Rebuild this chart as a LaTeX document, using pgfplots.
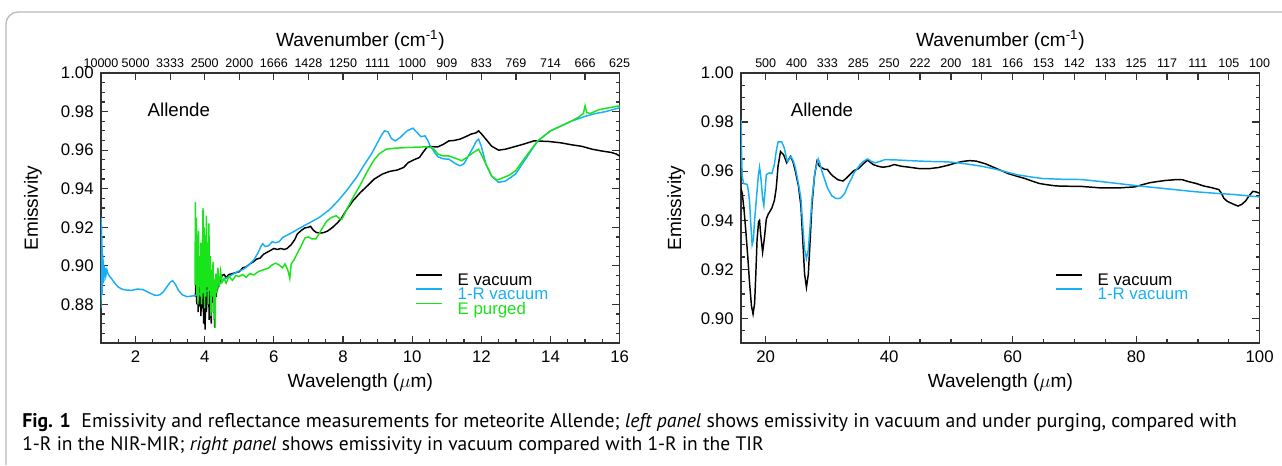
\documentclass[border=0pt]{standalone}
\usepackage{fontspec}
\setmainfont{Liberation Sans}
\newfontfamily\capfont{PT Sans}
\usepackage{graphicx}
\usepackage{pgfplots}
\pgfplotsset{compat=1.18}
\definecolor{cblue}{RGB}{25,175,245}
\definecolor{cgreen}{RGB}{25,228,25}
\definecolor{framec}{RGB}{50,50,50}

\pgfplotstableread{
x y
3.73 0.884
3.75 0.898
3.77 0.880
3.79 0.895
3.81 0.876
3.83 0.892
3.85 0.879
3.87 0.890
3.89 0.874
3.91 0.893
3.93 0.878
3.95 0.889
3.97 0.870
3.99 0.885
4.01 0.867
4.03 0.887
4.05 0.876
4.07 0.893
4.09 0.880
4.11 0.891
4.13 0.872
4.15 0.888
4.17 0.878
4.19 0.870
4.21 0.890
4.23 0.881
4.25 0.894
4.27 0.878
4.29 0.868
4.31 0.888
4.33 0.884
4.35 0.893
4.38 0.889
4.42 0.893
4.46 0.892
4.5 0.895
4.56 0.8955
4.62 0.894
4.7 0.8955
4.8 0.896
4.9 0.8965
5.0 0.897
5.1 0.899
5.2 0.8995
5.3 0.901
5.4 0.902
5.5 0.9035
5.6 0.904
5.7 0.906
5.8 0.907
5.9 0.908
6.0 0.909
6.1 0.9085
6.2 0.909
6.3 0.9085
6.38 0.909
6.5 0.911
6.6 0.9135
6.68 0.9166
6.8 0.9185
6.9 0.9197
7.0 0.920
7.06 0.9205
7.14 0.9185
7.22 0.9174
7.32 0.917
7.43 0.9172
7.55 0.918
7.7 0.920
7.85 0.9225
7.97 0.9252
8.1 0.929
8.29 0.9338
8.5 0.938
8.71 0.9416
8.9 0.945
9.14 0.9476
9.35 0.949
9.57 0.9497
9.75 0.951
9.89 0.9536
10.05 0.955
10.21 0.9562
10.32 0.959
10.42 0.9614
10.55 0.9618
10.74 0.9617
10.9 0.963
11.06 0.9648
11.2 0.965
11.38 0.9657
11.55 0.967
11.7 0.9683
11.85 0.969
11.92 0.970
12.0 0.9685
12.13 0.9657
12.3 0.962
12.5 0.960
12.7 0.9605
12.88 0.9614
13.2 0.963
13.52 0.9648
13.95 0.9645
14.3 0.9638
14.6 0.9628
14.9 0.962
15.2 0.9605
15.5 0.9595
15.76 0.9588
15.9 0.958
16.0 0.957
}\LEvac

\pgfplotstableread{
x y
1.0 0.878
1.005 0.925
1.01 0.884
1.015 0.921
1.02 0.888
1.025 0.915
1.03 0.885
1.035 0.910
1.04 0.889
1.05 0.906
1.06 0.891
1.07 0.903
1.08 0.892
1.09 0.900
1.10 0.894
1.12 0.899
1.14 0.895
1.17 0.898
1.2 0.896
1.25 0.8945
1.3 0.8935
1.4 0.891
1.5 0.889
1.6 0.888
1.7 0.8875
1.89 0.8873
2.05 0.888
2.21 0.8877
2.4 0.886
2.55 0.8848
2.64 0.8847
2.72 0.8852
2.8 0.8865
2.9 0.889
3.0 0.8915
3.07 0.8923
3.15 0.8905
3.25 0.887
3.35 0.885
3.49 0.884
3.6 0.8843
3.7 0.8845
3.85 0.8855
4.0 0.8865
4.13 0.8875
4.3 0.889
4.45 0.891
4.56 0.893
4.8 0.8955
5.0 0.8975
5.1 0.898
5.25 0.900
5.42 0.9031
5.55 0.907
5.62 0.910
5.68 0.9115
5.75 0.910
5.85 0.9105
5.95 0.9125
6.05 0.912
6.15 0.9125
6.26 0.9148
6.5 0.917
6.79 0.920
7.05 0.9225
7.32 0.9252
7.6 0.929
7.86 0.9338
8.1 0.939
8.39 0.9459
8.6 0.952
8.82 0.958
9.0 0.964
9.12 0.968
9.2 0.970
9.3 0.9695
9.4 0.966
9.51 0.9648
9.65 0.9665
9.85 0.970
10.02 0.9714
10.15 0.969
10.25 0.967
10.37 0.9674
10.45 0.965
10.53 0.962
10.64 0.959
10.74 0.9566
10.9 0.9555
11.06 0.9553
11.25 0.953
11.38 0.9519
11.5 0.953
11.6 0.9562
11.75 0.961
11.85 0.9645
11.92 0.9657
12.0 0.962
12.13 0.9528
12.3 0.9465
12.5 0.9433
12.7 0.944
12.99 0.9476
13.3 0.956
13.63 0.9648
14.0 0.970
14.3 0.9725
14.6 0.975
15.0 0.9775
15.3 0.979
15.6 0.980
16.0 0.982
}\LRvac

\pgfplotstableread{
x y
3.72 0.890
3.73 0.933
3.745 0.895
3.76 0.925
3.775 0.885
3.79 0.915
3.805 0.880
3.82 0.918
3.835 0.889
3.85 0.905
3.87 0.884
3.89 0.912
3.91 0.880
3.93 0.895
3.95 0.930
3.965 0.886
3.98 0.920
3.995 0.878
4.01 0.916
4.03 0.884
4.05 0.926
4.065 0.889
4.08 0.912
4.10 0.880
4.12 0.922
4.14 0.887
4.16 0.905
4.18 0.874
4.20 0.898
4.22 0.884
4.24 0.902
4.26 0.876
4.28 0.893
4.30 0.868
4.32 0.896
4.35 0.886
4.38 0.899
4.42 0.889
4.46 0.897
4.5 0.8915
4.56 0.8935
4.62 0.891
4.7 0.8945
4.8 0.8925
4.9 0.895
4.99 0.8945
5.1 0.8955
5.2 0.894
5.3 0.896
5.42 0.8953
5.55 0.897
5.7 0.898
5.84 0.8988
5.95 0.9005
6.05 0.9014
6.15 0.9005
6.25 0.899
6.32 0.901
6.4 0.898
6.46 0.8935
6.5 0.901
6.58 0.903
6.68 0.9066
6.78 0.910
6.9 0.9145
7.0 0.915
7.1 0.914
7.22 0.914
7.35 0.918
7.45 0.921
7.54 0.9234
7.65 0.925
7.8 0.926
7.9 0.9245
7.97 0.9243
8.1 0.929
8.29 0.9355
8.5 0.942
8.71 0.9493
8.9 0.955
9.04 0.958
9.25 0.9605
9.5 0.961
9.89 0.9614
10.2 0.9616
10.42 0.9617
10.55 0.9612
10.63 0.9605
10.74 0.958
10.9 0.957
11.06 0.957
11.25 0.9558
11.43 0.9545
11.6 0.9565
11.75 0.9585
11.92 0.9605
12.02 0.957
12.13 0.9528
12.3 0.9465
12.45 0.9445
12.6 0.9455
12.8 0.947
12.99 0.9493
13.3 0.957
13.63 0.9648
14.0 0.970
14.3 0.9725
14.6 0.975
14.8 0.977
14.95 0.979
15.0 0.983
15.05 0.9795
15.15 0.979
15.4 0.981
15.7 0.982
16.0 0.983
}\LEpur

\pgfplotstableread{
x y
16.0 0.953
16.2 0.951
16.5 0.944
16.8 0.935
17.1 0.925
17.4 0.914
17.7 0.905
17.95 0.9018
18.2 0.906
18.4 0.918
18.6 0.932
18.85 0.9395
19.0 0.940
19.2 0.934
19.5 0.927
19.8 0.933
20.1 0.9405
20.4 0.9424
21.0 0.945
21.4 0.948
21.7 0.953
22.0 0.962
22.4 0.968
22.9 0.9667
23.4 0.9634
24.0 0.966
24.4 0.964
24.8 0.960
25.3 0.954
25.7 0.946
26.0 0.932
26.3 0.918
26.6 0.9127
26.9 0.918
27.2 0.932
27.5 0.9465
27.9 0.958
28.3 0.964
28.7 0.962
29.1 0.9614
29.5 0.9608
30.0 0.9607
30.5 0.959
30.9 0.958
31.7 0.9565
32.5 0.956
33.0 0.957
33.4 0.958
34.3 0.9603
35.0 0.961
35.8 0.963
36.5 0.9645
37.0 0.9635
37.4 0.9627
38.2 0.962
39.0 0.9616
40.0 0.962
40.8 0.9627
42.0 0.962
43.3 0.9616
45.0 0.961
46.4 0.961
48.0 0.9615
49.5 0.9624
51.0 0.9635
52.0 0.964
53.0 0.9643
54.1 0.9641
55.6 0.963
56.8 0.9617
58.1 0.9603
59.3 0.959
60.6 0.958
62.0 0.957
63.1 0.956
64.3 0.955
65.5 0.9545
67.0 0.954
68.0 0.9539
71.1 0.9538
74.2 0.9532
77.3 0.9532
79.8 0.9536
81.0 0.9545
82.2 0.9553
83.5 0.9558
84.7 0.9562
86.6 0.9566
87.5 0.9565
88.4 0.9558
89.7 0.955
90.9 0.954
92.2 0.9533
93.4 0.9525
93.8 0.951
94.2 0.949
94.7 0.9478
95.2 0.9472
95.8 0.9465
96.5 0.9458
97.1 0.9465
97.7 0.9478
98.3 0.950
98.9 0.9518
99.5 0.9515
100.0 0.951
}\REvac

\pgfplotstableread{
x y
16.0 0.981
16.05 0.975
16.1 0.966
16.2 0.958
16.4 0.955
17.0 0.9546
17.2 0.952
17.4 0.947
17.6 0.938
17.8 0.930
18.0 0.932
18.2 0.940
18.5 0.949
18.8 0.958
19.0 0.9616
19.15 0.959
19.3 0.955
19.5 0.949
19.7 0.946
19.9 0.952
20.1 0.9586
20.6 0.9593
21.0 0.959
21.4 0.9627
21.7 0.968
22.0 0.9719
22.6 0.9719
23.0 0.9695
23.5 0.964
24.1 0.966
24.5 0.964
24.8 0.9614
25.3 0.955
25.7 0.949
26.0 0.938
26.3 0.928
26.6 0.9244
26.9 0.928
27.2 0.938
27.5 0.949
28.0 0.960
28.5 0.965
28.8 0.963
29.1 0.960
29.5 0.957
30.0 0.9532
30.7 0.950
31.3 0.949
31.8 0.9488
32.2 0.9492
32.8 0.951
33.4 0.9546
33.9 0.957
34.3 0.9593
34.8 0.961
35.3 0.9627
36.0 0.9643
36.5 0.965
37.1 0.964
37.7 0.9634
38.5 0.964
39.3 0.9647
41.0 0.9646
43.3 0.9643
46.0 0.964
49.5 0.9638
51.5 0.9633
53.2 0.9627
55.0 0.962
56.9 0.961
58.8 0.9598
60.6 0.9586
62.8 0.9577
64.9 0.957
68.0 0.9567
71.1 0.9566
74.2 0.9558
77.3 0.9549
80.4 0.954
83.5 0.9532
86.6 0.9524
89.7 0.9516
92.8 0.951
95.8 0.9505
98.0 0.950
100.0 0.9495
}\RRvac

\pgfplotsset{
  base/.style={
    scale only axis, width=389pt, height=202.5pt, anchor=south west,
    enlargelimits=false, clip=true,
    tick align=inside,
    major tick length=5.5pt, minor tick length=2.8pt,
    axis line style={line width=1.1pt, framec},
    every tick/.style={line width=0.9pt, framec},
    /pgf/number format/assume math mode=true,
    tick label style={font=\fontsize{12.6}{14}\selectfont},
    label style={font=\fontsize{14.3}{16}\selectfont},
  },
  main/.style={base,
    xtick pos=left, ytick pos=both,
    yticklabel style={/pgf/number format/fixed, /pgf/number format/fixed zerofill, /pgf/number format/precision=2, xshift=-2pt},
    xticklabel style={yshift=-2.5pt},
    xlabel={Wavelength ($\mu$m)},
    ylabel={Emissivity},
    xlabel style={at={(axis description cs:0.5,-0.148)}, anchor=center},
    legend cell align=left,
    legend style={draw=none, fill=none, inner sep=0pt, outer sep=0pt,
      font=\fontsize{12.6}{14}\selectfont, row sep=2pt, column sep=11pt,
      nodes={inner sep=0pt, text height=8.3pt, text depth=0.2pt}},
    legend image code/.code={\draw[#1, line width=1.2pt] (0pt,3.9pt) -- (20pt,3.9pt);},
    every axis plot/.append style={line width=1.1pt},
  },
  top/.style={base,
    axis x line*=top, axis y line=none, ymin=0, ymax=1,
    xticklabel style={font=\fontsize{9.4}{11}\selectfont, yshift=0.5pt},
    xlabel={Wavenumber (cm\textsuperscript{-1})},
    xlabel style={at={(axis description cs:0.5,1.122)}, anchor=center},
  },
}

\begin{document}
\begin{tikzpicture}[x=0.75pt,y=0.75pt]
\path[use as bounding box] (0,0) rectangle (1282,465);
\draw[gray!55, line width=1pt, rounded corners=9pt] (1282,453) -| (6,0);

% ---------- left panel ----------
\begin{axis}[main, at={(75.75pt,91.5pt)},
  xmin=1, xmax=16, ymin=0.86, ymax=1.0,
  xtick={2,4,...,16}, minor xtick={1.5,2,...,16},
  ytick={0.88,0.9,0.92,0.94,0.96,0.98,1.0},
  minor ytick={0.86,0.865,...,1.0},
  ylabel style={at={(axis description cs:-0.131,0.5)}, anchor=center},
  legend style={at={(axis description cs:0.605,0.255)}, anchor=north west},
]
\addplot[black] table {\LEvac};
\addlegendentry{E vacuum}
\addplot[cblue] table {\LRvac};
\addlegendentry{\textcolor{cblue}{1-R vacuum}}
\addplot[cgreen] table {\LEpur};
\addlegendentry{\textcolor{cgreen}{E purged}}
\node[anchor=west, font=\fontsize{14}{16}\selectfont] at (axis description cs:0.081,0.863) {Allende};
\end{axis}
\begin{axis}[top, at={(75.75pt,91.5pt)}, xmin=1, xmax=16,
  xtick={1,2,...,16},
  xticklabels={10000,5000,3333,2500,2000,1666,1428,1250,1111,1000,909,833,769,714,666,625},
]
\end{axis}

% ---------- right panel ----------
\begin{axis}[main, at={(555.75pt,91.5pt)},
  xmin=16, xmax=100, ymin=0.89, ymax=1.0,
  xtick={20,40,60,80,100}, minor xtick={20,25,...,100},
  ytick={0.9,0.92,0.94,0.96,0.98,1.0},
  minor ytick={0.89,0.895,...,1.0},
  ylabel style={at={(axis description cs:-0.125,0.5)}, anchor=center},
  legend style={at={(axis description cs:0.605,0.255)}, anchor=north west},
]
\addplot[black] table {\REvac};
\addlegendentry{E vacuum}
\addplot[cblue] table {\RRvac};
\addlegendentry{\textcolor{cblue}{1-R vacuum}}
\node[anchor=west, font=\fontsize{14}{16}\selectfont] at (axis description cs:0.087,0.863) {Allende};
\end{axis}
\begin{axis}[top, at={(555.75pt,91.5pt)}, xmin=16, xmax=100,
  xtick={20,25,...,100},
  xticklabels={500,400,333,285,250,222,200,181,166,153,142,133,125,117,111,105,100},
]
\end{axis}

% ---------- caption ----------
\node[anchor=base west, inner sep=0pt] at (22,38) {\resizebox{911pt}{!}{\capfont\fontsize{12}{14}\selectfont\textbf{Fig. 1}\ \ Emissivity and reflectance measurements for meteorite Allende; \textit{left panel} shows emissivity in vacuum and under purging, compared with}};
\node[anchor=base west, inner sep=0pt] at (22,15) {\resizebox{556pt}{!}{\capfont\fontsize{12}{14}\selectfont 1-R in the NIR-MIR; \textit{right panel} shows emissivity in vacuum compared with 1-R in the TIR}};
\end{tikzpicture}
\end{document}
